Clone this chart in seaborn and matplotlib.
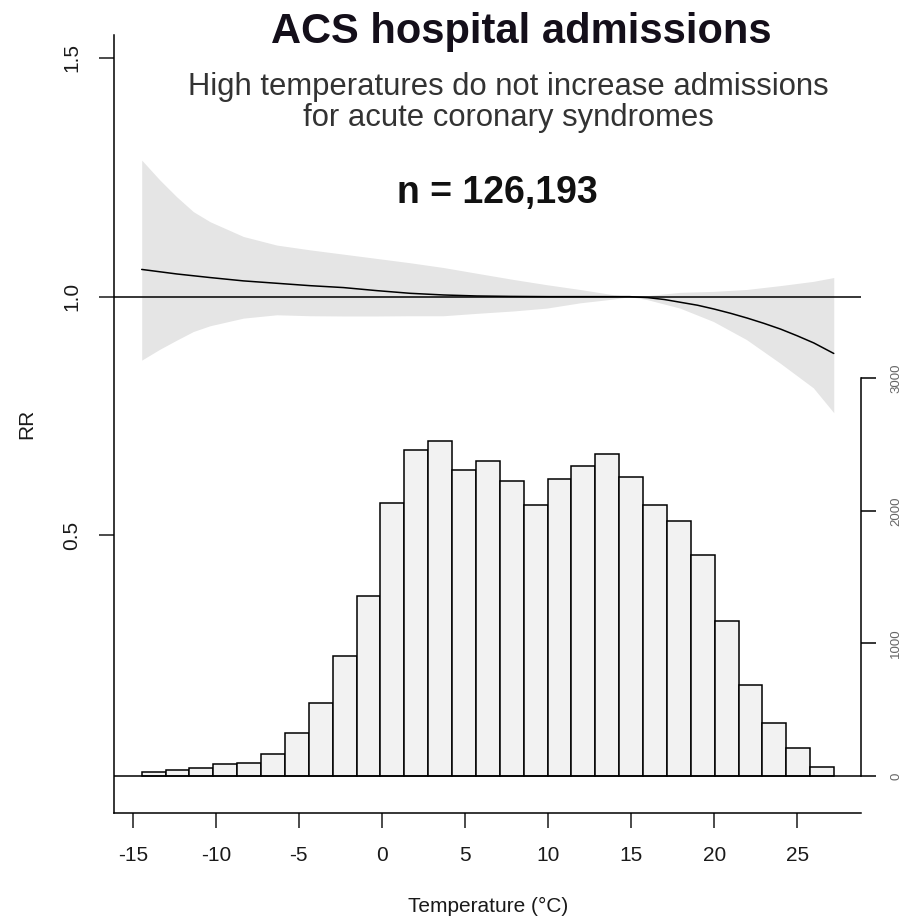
import matplotlib
matplotlib.use("Agg")
import numpy as np
import pandas as pd
import seaborn as sns
import matplotlib.pyplot as plt
from matplotlib import font_manager

# relative risk curve
curve_temp = [-14.46, -12.35, -10.35, -8.34, -6.33, -4.33, -2.32, -0.31, 1.69, 3.70,
              5.71, 7.72, 10.0, 12.0, 14.9, 16.0, 17.0, 18.0, 19.0, 20.0, 21.0,
              22.0, 23.0, 24.0, 25.0, 26.0, 27.2]
curve_rr = [1.057, 1.0475, 1.040, 1.033, 1.028, 1.023, 1.019, 1.0126, 1.007, 1.0035,
            1.0014, 1.0005, 1.0, 1.0, 1.0, 0.998, 0.994, 0.988, 0.982, 0.974, 0.965,
            0.955, 0.944, 0.932, 0.918, 0.903, 0.881]

# 95% confidence band
band_temp = [-14.46, -13.36, -12.35, -11.35, -10.35, -8.34, -6.33, -4.33, -2.32, -0.31,
             1.69, 3.70, 5.71, 7.91, 9.92, 11.92, 13.93, 14.93, 15.94, 17.94, 19.95,
             21.95, 23.96, 25.97, 27.2]
band_upper = [1.286, 1.244, 1.209, 1.178, 1.157, 1.126, 1.108, 1.098, 1.089, 1.080,
              1.071, 1.061, 1.049, 1.036, 1.025, 1.015, 1.004, 1.000, 1.002, 1.009,
              1.011, 1.015, 1.023, 1.032, 1.040]
band_lower = [0.867, 0.890, 0.909, 0.927, 0.939, 0.955, 0.962, 0.960, 0.9595, 0.9595,
              0.960, 0.960, 0.965, 0.970, 0.976, 0.987, 0.995, 1.000, 0.994, 0.976,
              0.948, 0.910, 0.861, 0.809, 0.757]

# temperature distribution (29 equal bins)
hist_counts = [33, 45, 58, 88, 101, 166, 322, 553, 908, 1360, 2059, 2459, 2527, 2308,
               2376, 2225, 2044, 2240, 2336, 2431, 2253, 2044, 1921, 1665, 1172, 686,
               402, 209, 70]
hist_min, hist_max = -14.46, 27.22

x_ticks = [-15, -10, -5, 0, 5, 10, 15, 20, 25]
rr_ticks = [0.5, 1.0, 1.5]
rr_labels = ["0.5", "1.0", "1.5"]
count_ticks = [0, 1000, 2000, 3000]

title = "ACS hospital admissions"
subtitle = ["High temperatures do not increase admissions", "for acute coronary syndromes"]
n_text = "n = 126,193"

W, H = 908, 921

sns.set_theme(style="white")
plt.rcParams["font.family"] = ["Liberation Sans", "DejaVu Sans"]

fig = plt.figure(figsize=(W / 100, H / 100), dpi=100)
fig.patch.set_facecolor("white")
ax = fig.add_axes([114.3 / W, 1 - 813 / H, (861 - 114.3) / W, (813 - 35) / H])

ax.fill_between(band_temp, band_lower, band_upper, color="#e5e5e5", lw=0, zorder=1)
ax.axhline(1.0, color="black", lw=1.1, zorder=2)
sns.lineplot(x=curve_temp, y=curve_rr, ax=ax, color="black", lw=1.1, zorder=3)

ax.set_xlim(-16.11, 28.84)
ax.set_ylim(-0.0815, 1.548)
ax.set_xticks(x_ticks)
ax.set_xticklabels([str(t) for t in x_ticks])
ax.set_yticks(rr_ticks)
ax.set_yticklabels(rr_labels, rotation=90, va="center")
ax.tick_params(axis="x", bottom=True, direction="out", length=10.5, width=1.1,
               pad=13.5, labelsize=15, colors="#1a1a1a")
ax.tick_params(axis="y", left=True, direction="out", length=10.5, width=1.1,
               pad=13.5, labelsize=15, colors="#1a1a1a")
for s in ["top", "right"]:
    ax.spines[s].set_visible(False)
for s in ["left", "bottom"]:
    ax.spines[s].set_color("black")
    ax.spines[s].set_linewidth(1.1)
ax.set_xlabel("Temperature (°C)", fontsize=15, color="#1a1a1a")
ax.xaxis.set_label_coords(0.5, -0.108)
ax.set_ylabel("RR", fontsize=15, color="#1a1a1a")
ax.yaxis.set_label_coords(-0.105, 0.5)

# histogram on a secondary count axis
ax2 = ax.twinx()
edges = np.linspace(hist_min, hist_max, len(hist_counts) + 1)
hist_df = pd.DataFrame({"temp": (edges[:-1] + edges[1:]) / 2, "days": hist_counts})
sns.histplot(data=hist_df, x="temp", weights="days", bins=list(edges), ax=ax2,
             color="#f2f2f2", edgecolor="black", linewidth=1.1, alpha=1)
ax2.axhline(0, color="black", lw=1.1)
ax2.set_ylim(-279, 5589)
ax2.set_ylabel("")
ax2.set_yticks(count_ticks)
ax2.set_yticklabels([str(c) for c in count_ticks], rotation=90, va="center")
ax2.tick_params(axis="y", right=True, direction="out", length=10.5, width=1.1,
                pad=10.5, labelsize=9.5, colors="black", labelcolor="#666666")
for s in ["top", "left", "bottom"]:
    ax2.spines[s].set_visible(False)
ax2.spines["right"].set_bounds(0, 3000)
ax2.spines["right"].set_linewidth(1.1)
ax2.spines["right"].set_color("black")

# annotations
names = {f.name for f in font_manager.fontManager.ttflist}
if "Liberation Sans Narrow" in names:
    n_family, n_size = ["Liberation Sans Narrow", "Liberation Sans"], 32.5
else:
    n_family, n_size = ["Liberation Sans", "DejaVu Sans"], 27

fig.text(521 / W, 1 - 42.7 / H, title, ha="center", va="baseline", fontsize=30,
         fontweight="bold", color="#140f1a")
fig.text(508 / W, 1 - 87 / H, subtitle[0], ha="center", va="center", fontsize=22.3,
         color="#333333")
fig.text(508 / W, 1 - 118 / H, subtitle[1], ha="center", va="center", fontsize=22.3,
         color="#333333")
fig.text(497 / W, 1 - 193 / H, n_text, ha="center", va="center", fontsize=n_size,
         fontweight="bold", family=n_family, color="#111111")

fig.savefig("out.png", dpi=100, facecolor="white")
